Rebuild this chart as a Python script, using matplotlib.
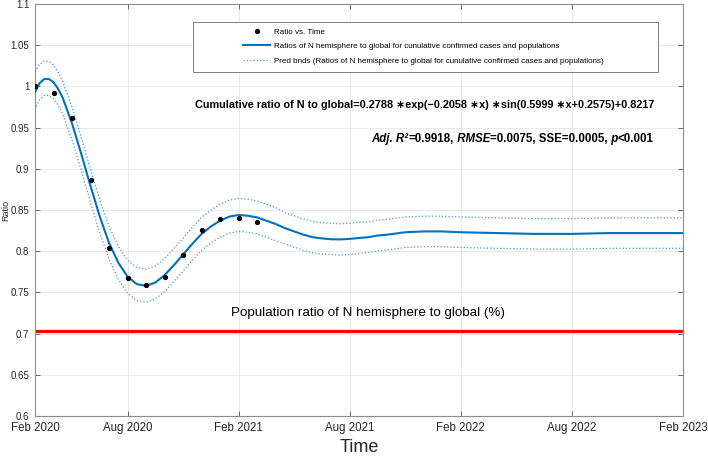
#!/usr/bin/env python3
"""
Ratio of N hemisphere to global cumulative confirmed cases, with damped sine fit.
"""

import matplotlib
matplotlib.use("Agg")
import matplotlib.pyplot as plt
from matplotlib.patches import Rectangle
from matplotlib.offsetbox import TextArea, HPacker, AnnotationBbox

plt.rcParams['font.family'] = ['Liberation Sans', 'DejaVu Sans']

# Monthly observed ratios (x = month index, 1 = Feb 2020)
obs_month = [1, 2, 3, 4, 5, 6, 7, 8, 9, 10, 11, 12, 13]
obs_ratio = [1.000, 0.992, 0.962, 0.886, 0.804, 0.767, 0.759, 0.769, 0.795,
             0.826, 0.839, 0.840, 0.835]

# Fitted curve and prediction bounds
fit_month = [1, 1.25, 1.5, 1.75, 2, 2.25, 2.5,
             3, 3.5, 4, 4.5, 5, 5.5, 6, 6.5, 7, 7.5, 8, 8.5, 9, 9.5, 10,
             10.5, 11, 11.5, 12, 12.5, 13, 13.5, 14,
             14.5, 15, 15.5, 16, 16.5, 17, 17.5, 18, 18.5, 19, 19.5, 20,
             21, 22, 23, 24,
             26, 28, 30, 32, 34, 36]
fit_ratio = [0.993, 1.004, 1.009, 1.009, 1.005, 0.997, 0.986,
             0.955, 0.918, 0.879, 0.842, 0.810, 0.786, 0.769, 0.760, 0.758, 0.762,
             0.771, 0.783, 0.796, 0.809, 0.821,
             0.830, 0.837, 0.842, 0.844, 0.843, 0.841, 0.837, 0.833,
             0.828, 0.824, 0.820, 0.817, 0.8155, 0.8145, 0.8143, 0.815, 0.816, 0.817, 0.819, 0.820,
             0.823, 0.824, 0.824, 0.823,
             0.822, 0.821, 0.821, 0.822, 0.822, 0.822]
upper_bnd = [1.018, 1.027, 1.031, 1.030, 1.026, 1.017, 1.006,
             0.975, 0.938, 0.899, 0.862, 0.830, 0.806, 0.789, 0.780, 0.778, 0.782,
             0.791, 0.803, 0.816, 0.829, 0.841,
             0.850, 0.857, 0.862, 0.864, 0.863, 0.861, 0.857, 0.853,
             0.847, 0.843, 0.839, 0.836, 0.8345, 0.834, 0.8333, 0.834, 0.835, 0.8355, 0.8375, 0.8385,
             0.8415, 0.8425, 0.8425, 0.8415,
             0.8405, 0.8395, 0.8395, 0.8405, 0.8405, 0.8405]
lower_bnd = [0.972, 0.984, 0.989, 0.989, 0.985, 0.977, 0.966,
             0.935, 0.898, 0.859, 0.822, 0.790, 0.766, 0.749, 0.740, 0.738, 0.742,
             0.751, 0.763, 0.776, 0.789, 0.801,
             0.810, 0.817, 0.822, 0.824, 0.823, 0.821, 0.817, 0.813,
             0.809, 0.805, 0.801, 0.798, 0.7965, 0.796, 0.7953, 0.796, 0.797, 0.7985, 0.8005, 0.8015,
             0.8045, 0.8055, 0.8055, 0.8045,
             0.8035, 0.8025, 0.8025, 0.8035, 0.8035, 0.8035]

pop_ratio = 0.7035

tick_month = [1, 6, 12, 18, 24, 30, 36]
tick_label = ['Feb 2020', 'Aug 2020', 'Feb 2021', 'Aug 2021',
              'Feb 2022', 'Aug 2022', 'Feb 2023']
ytick_vals = [0.6, 0.65, 0.7, 0.75, 0.8, 0.85, 0.9, 0.95, 1.0, 1.05, 1.1]

BLUE = '#0072BD'
BND = '#4a94dc'
W, H = 708, 461


def main():
    fig = plt.figure(figsize=(W / 100, H / 100), dpi=100)
    ax = fig.add_axes([35 / W, 45 / H, 648 / W, 412 / H])

    ax.grid(True, color='#e5e5e5', linewidth=0.6)
    ax.set_axisbelow(True)

    ax.axhline(pop_ratio, color='#ff0000', linewidth=2.3, zorder=2)
    pts, = ax.plot(obs_month, obs_ratio, 'o', color='black', markersize=2.8,
                   zorder=5, label='Ratio vs. Time')
    fit, = ax.plot(fit_month, fit_ratio, '-', color=BLUE, linewidth=1.5, zorder=4,
                   label='Ratios of N hemisphere to global for cunulative confirmed cases and populations')
    bnd, = ax.plot(fit_month, upper_bnd, ':', color=BND, linewidth=0.9, zorder=3,
                   label='Pred bnds (Ratios of N hemisphere to global for cunulative confirmed cases and populations)')
    ax.plot(fit_month, lower_bnd, ':', color=BND, linewidth=0.9, zorder=3)

    ax.set_xlim(1, 36)
    ax.set_ylim(0.6, 1.1)
    ax.set_xticks(tick_month)
    ax.set_xticklabels(tick_label, fontsize=8.3)
    ax.set_yticks(ytick_vals)
    ax.set_yticklabels(['%g' % v for v in ytick_vals], fontsize=7)
    ax.tick_params(direction='in', length=3.5, width=0.6, top=True, right=True,
                   color='#555555', labelcolor='#262626', pad=4)
    for sp in ax.spines.values():
        sp.set_color('#8c8c8c')
        sp.set_linewidth(0.8)

    ax.set_ylabel('Ratio', fontsize=6.5, color='#262626')
    ax.yaxis.set_label_coords(-0.038, 0.5)
    ax.set_xlabel('Time', fontsize=13, color='#262626')
    ax.xaxis.set_label_coords(0.5, -0.056)

    # legend box drawn by hand so the padding matches the original
    fig.patches.append(Rectangle((193 / W, 1 - 72 / H), 465 / W, 50 / H,
                                 transform=fig.transFigure, facecolor='white',
                                 edgecolor='#7f7f7f', linewidth=0.7, zorder=10))
    leg = fig.legend(handles=[pts, fit, bnd], loc='upper left',
                     bbox_to_anchor=(243 / W, 1 - 28 / H), frameon=False,
                     fontsize=5.8, handlelength=3.4, handletextpad=0.4,
                     labelspacing=0.85, borderpad=0, borderaxespad=0, numpoints=1)
    leg.set_zorder(11)

    fig.text(654 / W, 1 - 105 / H,
             'Cumulative ratio of N to global=0.2788 \u2217exp(\u22120.2058 \u2217x) '
             '\u2217sin(0.5999 \u2217x+0.2575)+0.8217',
             fontsize=7.8, fontweight='bold', ha='right', va='center')

    # stats line with mixed italic parts
    parts = [('Adj. R\u00b2', 'italic'), ('=0.9918,', 'normal'), ('\u00a0RMSE', 'italic'),
             ('=0.0075, SSE=0.0005,', 'normal'), ('\u00a0p', 'italic'), ('<0.001', 'normal')]
    boxes = [TextArea(s, textprops=dict(fontsize=8.3, fontweight='bold', fontstyle=st))
             for s, st in parts]
    pack = HPacker(children=boxes, align='baseline', pad=0, sep=0)
    ab = AnnotationBbox(pack, (654 / W, 1 - 139 / H), xycoords='figure fraction',
                        box_alignment=(1, 0.5), frameon=False)
    fig.add_artist(ab)

    fig.text(231 / W, 1 - 313 / H, 'Population ratio of N hemisphere to global (%)',
             fontsize=9.6, ha='left', va='center')

    fig.savefig('out.png', dpi=100)


if __name__ == '__main__':
    main()
